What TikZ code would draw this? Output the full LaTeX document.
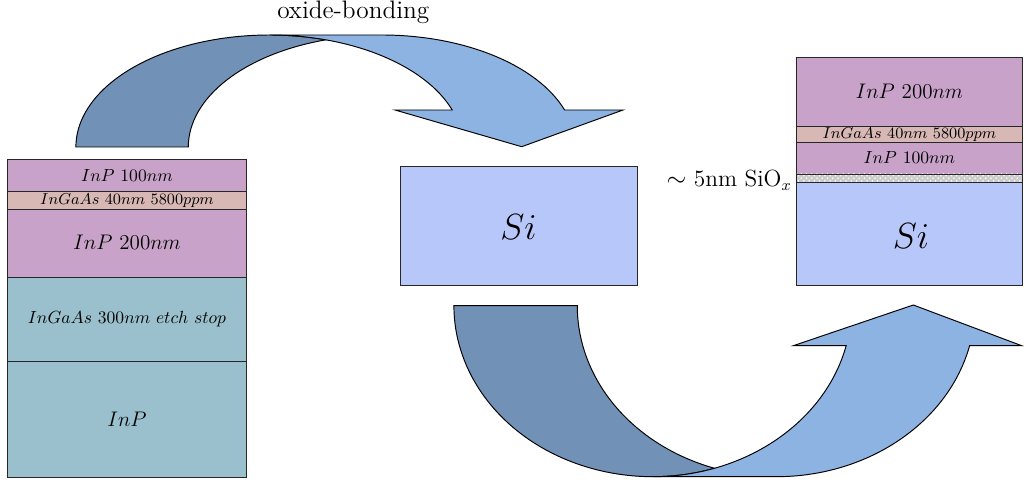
\documentclass[tikz,border=0pt]{standalone}
\usetikzlibrary{patterns}
\definecolor{lilac}{RGB}{200,162,200}
\definecolor{ingaasthin}{RGB}{216,184,180}
\definecolor{tealgray}{RGB}{153,192,204}
\definecolor{sicol}{RGB}{184,199,250}
\definecolor{arrlight}{RGB}{141,179,226}
\definecolor{arrdark}{RGB}{113,145,182}
\begin{document}
\begin{tikzpicture}[x=0.02cm,y=0.02cm,
  layer/.style={draw=black!85,line width=0.5pt},
  arrowshape/.style={draw=black,line width=0.55pt,line join=miter},
  lbl/.style={inner sep=0pt}]
\useasboundingbox (0,0) rectangle (1024,484);
% left stack
\draw[layer,fill=lilac] (7.5,324.5) rectangle (246.5,292.3);
\draw[layer,fill=ingaasthin] (7.5,292.3) rectangle (246.5,275);
\draw[layer,fill=lilac] (7.5,275) rectangle (246.5,206.7);
\draw[layer,fill=tealgray] (7.5,206.7) rectangle (246.5,122.3);
\draw[layer,fill=tealgray] (7.5,122.3) rectangle (246.5,6.7);
\node[lbl] (l1) at (127,308.4) {$InP$ 100$nm$};
\node[lbl] (l2) at (127,283.7) {\small $InGaAs$ 40$nm$ 5800$ppm$};
\node[lbl] (l3) at (127,241) {\large $InP$ 200$nm$};
\node[lbl] (l4) at (127,164.5) {$InGaAs$ 300$nm$ $etch\ stop$};
\node[lbl] (l5) at (127,64.5) {\large $InP$};
% middle Si
\draw[layer,fill=sicol] (400,318) rectangle (637,199);
\node[lbl] (msi) at (518.5,257) {\huge $Si$};
% right stack
\draw[layer,fill=lilac] (796.7,426.7) rectangle (1022,358);
\draw[layer,fill=ingaasthin] (796.7,358) rectangle (1022,341.3);
\draw[layer,fill=lilac] (796.7,341.3) rectangle (1022,310);
\fill[gray!40] (796.7,310) rectangle (1022,301.3);
\fill[pattern=crosshatch dots,pattern color=white] (796.7,310) rectangle (1022,301.3);
\draw[layer] (796.7,310) rectangle (1022,301.3);
\draw[layer,fill=sicol] (796.7,301.3) rectangle (1022,199);
\node[lbl] (r1) at (909.3,392.3) {\large $InP$ 200$nm$};
\node[lbl] (r2) at (909.3,349.7) {\small $InGaAs$ 40$nm$ 5800$ppm$};
\node[lbl] (r3) at (909.3,326) {$InP$ 100$nm$};
\node[lbl] (rsi) at (911,248) {\huge $Si$};
\node[lbl,anchor=base east] (siox) at (792,297.5) {\fontsize{13.3}{16}\selectfont $\sim$ 5nm SiO$_x$};
\node[lbl,anchor=base] (ob) at (353.3,465.5) {\Large oxide-bonding};
% top arrow (curved down arrow)
\draw[arrowshape,fill=arrdark] (75.9,337) arc[start angle=180,end angle=73.12,x radius=193.6,y radius=112]
  arc[start angle=106.88,end angle=180,x radius=193.6,y radius=112] -- cycle;
\draw[arrowshape,fill=arrlight] (564.6,374) arc[start angle=19.29,end angle=90,x radius=193.6,y radius=112]
  -- (269.5,449) arc[start angle=90,end angle=19.29,x radius=193.6,y radius=112]
  -- (395,374) -- (521.7,337.3) -- (623,374) -- cycle;
% bottom arrow (curved up arrow)
\draw[arrowshape,fill=arrdark] (453.9,178.3) arc[start angle=180,end angle=288.07,x radius=198.9,y radius=171]
  arc[start angle=251.93,end angle=180,x radius=198.9,y radius=171] -- cycle;
\draw[arrowshape,fill=arrlight] (969.6,138.3) arc[start angle=346.47,end angle=270,x radius=198.9,y radius=171]
  -- (652.8,7.3) arc[start angle=270,end angle=346.47,x radius=198.9,y radius=171]
  -- (793.3,138.3) -- (913.3,179) -- (1021.7,138.3) -- cycle;
\end{tikzpicture}
\end{document}
